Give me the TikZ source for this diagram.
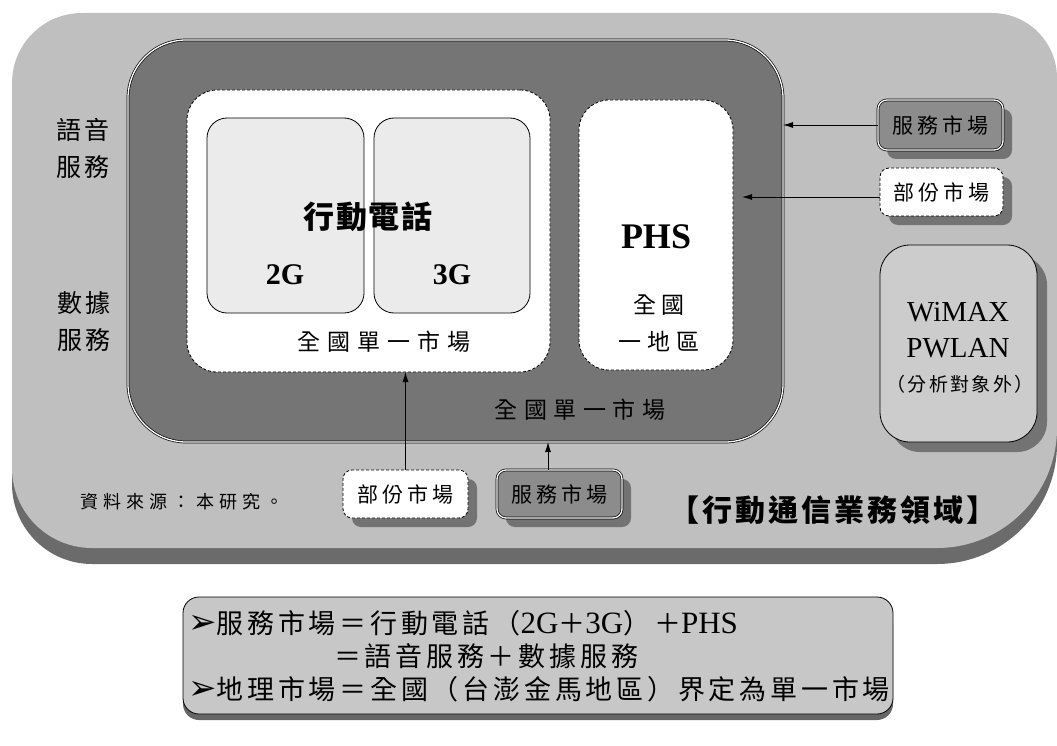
\documentclass[tikz,border=0pt]{standalone}
\usepackage{fontspec}
\setmainfont{Liberation Serif}
\newfontfamily\cjk{Noto Sans CJK TC}
\newfontfamily\cjkN{Noto Sans CJK TC}[LetterSpace=14]
\newfontfamily\symf{DejaVu Sans}
\usetikzlibrary{arrows.meta,shadows}
\newcommand\cjkfont[3]{\cjk\addfontfeature{LetterSpace=#3}\fontsize{#1}{#2}\selectfont}
\newcommand\bigarrowhead{{\symf\fontsize{34}{34}\selectfont ➢}}
\newcommand\lat[1]{{\fontsize{31}{32}\selectfont #1}}
\begin{document}
\begin{tikzpicture}[x=1pt,y=-1pt,
  base/.style={inner sep=0pt, outer sep=0pt},
  darkbox/.style={base, draw=black, double=white, double distance=1.3pt, line width=0.7pt, fill=black!54, rounded corners=58pt},
  grpbox/.style={base, draw=black, dash pattern=on 3pt off 2pt, line width=0.8pt, fill=white, rounded corners=30pt},
  genbox/.style={base, draw=black, line width=0.8pt, fill=black!8, rounded corners=20pt},
  svcbox/.style={base, draw=black, double=white, double distance=1.3pt, line width=0.7pt, fill=black!45, rounded corners=9pt,
     drop shadow={shadow xshift=9pt, shadow yshift=-9pt, fill=black!55, opacity=1}},
  partbox/.style={base, draw=black, dash pattern=on 3pt off 2pt, line width=0.8pt, fill=white, rounded corners=9pt,
     drop shadow={shadow xshift=9pt, shadow yshift=-9pt, fill=black!55, opacity=1}},
  wbox/.style={base, draw=black, line width=0.8pt, fill=black!20, rounded corners=30pt,
     drop shadow={shadow xshift=10pt, shadow yshift=-10pt, fill=black!55, opacity=1}},
  notebox/.style={base, draw=black, line width=0.8pt, fill=black!22, rounded corners=16pt},
  arr/.style={-{Latex[length=10pt,width=6pt]}, line width=0.9pt},
  lbl/.style={base, align=center},
  notetext/.style={base, anchor=base west, font=\fontsize{27}{32}\selectfont},
]
\useasboundingbox (0,0) rectangle (1057,746);
% outer region (shadow band + face)
\fill[black!58] (500,29) [rounded corners=65pt] -- (1057,29) [rounded corners=120pt] -- (1057,564) [rounded corners=80pt] -- (12,564) [rounded corners=70pt] -- (12,29) -- cycle;
\fill[black!25] (500,13) [rounded corners=65pt] -- (1057,13) [rounded corners=120pt] -- (1057,548) [rounded corners=80pt] -- (12,548) [rounded corners=70pt] -- (12,13) -- cycle;

% main boxes
\node[darkbox, minimum width=655pt, minimum height=402pt] (dark) at (455.5,241) {};
\node[grpbox, minimum width=363pt, minimum height=282pt] (grp) at (368.5,231) {};
\node[genbox, minimum width=157pt, minimum height=195pt] (g2) at (285.5,215.5) {};
\node[genbox, minimum width=156pt, minimum height=195pt] (g3) at (452,215.5) {};
\node[grpbox, minimum width=154pt, minimum height=270pt] (phs) at (656,235) {};

\node[lbl, font=\cjkfont{31}{36}{6}\bfseries] (mob) at (368,217) {行動電話};
\node[lbl, font=\fontsize{30}{34}\selectfont\bfseries] (t2g) at (285,275) {2G};
\node[lbl, font=\fontsize{30}{34}\selectfont\bfseries] (t3g) at (452,275) {3G};
\node[lbl, font=\cjkfont{23}{28}{30}] (grpl) at (384,342) {全國單一市場};
\node[lbl, font=\fontsize{36}{40}\selectfont\bfseries] (tphs) at (656,237) {PHS};
\node[lbl, font=\cjkfont{23}{37}{25}] (phsl) at (659,323.5) {全國\\一地區};
\node[lbl, font=\cjkfont{23}{28}{28}] (darkl) at (580,410) {全國單一市場};

% left labels
\node[lbl, font=\cjkfont{25}{37}{10}] (voice) at (83,148.5) {語音\\服務};
\node[lbl, font=\cjkfont{25}{37}{10}] (data) at (84,321.5) {數據\\服務};

% right side boxes
\node[svcbox, minimum width=125pt, minimum height=50pt, font=\cjkfont{21}{26}{20}] (svc1) at (940.5,125) {服務市場};
\node[partbox, minimum width=123pt, minimum height=48pt, font=\cjkfont{21}{26}{20}] (part1) at (941.5,192) {部份市場};
\node[wbox, minimum width=157pt, minimum height=197pt] (wimax) at (958.5,343.5) {};
\node[lbl, font=\fontsize{29}{32}\selectfont] (twimax) at (958,312) {WiMAX};
\node[lbl, font=\fontsize{29}{32}\selectfont] (tpwlan) at (958,348) {PWLAN};
\node[lbl, font=\cjkfont{19}{24}{12}] (tout) at (960,384) {（分析對象外）};

% bottom boxes
\node[partbox, minimum width=125pt, minimum height=48pt, font=\cjkfont{21}{26}{20}] (part2) at (405.5,494) {部份市場};
\node[svcbox, minimum width=125pt, minimum height=48pt, font=\cjkfont{21}{26}{20}] (svc2) at (559.5,494) {服務市場};

\node[lbl, font=\cjkfont{18}{22}{28}] (src) at (182,502) {資料來源：本研究。};
\node[lbl, font=\cjkfont{30}{34}{10}\bfseries] (title) at (833,510) {【行動通信業務領域】};

% connectors
\coordinate (p1tip) at (742,197);
\draw[arr] (svc1.west) -- (svc1.west -| dark.east);
\draw[arr] (part1.west |- p1tip) -- (p1tip);
\draw[arr] (part2.north) -- (part2.north |- grp.south);
\draw[arr] ([xshift=-11.5pt]svc2.north) -- ([xshift=-11.5pt]svc2.north |- dark.south);

% note box
\fill[black!60] (183,608) [rounded corners=16pt] -- (183,720) -- (893,720) -- (893,608) -- cycle;
\node[notebox, minimum width=710pt, minimum height=117pt] (note) at (538,655.5) {};
\node[notetext] (n1) at (188,633) {\bigarrowhead{\cjkN 服務市場＝行動電話（}\lat{2G}{\cjkN ＋}\lat{3G}{\cjkN ）＋}\lat{PHS}};
\node[notetext] (n2) at (334,666) {{\cjkN ＝語音服務＋數據服務}};
\node[notetext] (n3) at (188,699) {\bigarrowhead{\cjkN 地理市場＝全國（台澎金馬地區）界定為單一市場}};
\end{tikzpicture}
\end{document}
